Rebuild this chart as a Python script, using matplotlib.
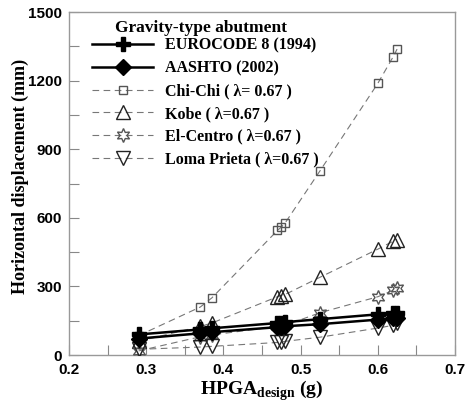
import numpy as np
import matplotlib.pyplot as plt
from matplotlib.ticker import MultipleLocator

# design HPGA values (g)
hpga = [0.29, 0.37, 0.385, 0.47, 0.475, 0.48, 0.525, 0.60, 0.62, 0.625]

# horizontal displacement (mm)
eurocode = [90, 112, 117, 140, 142, 144, 157, 178, 183, 186]
aashto = [72, 95, 100, 122, 124, 126, 135, 155, 160, 162]
chichi = [85, 210, 250, 545, 560, 578, 805, 1188, 1305, 1338]
kobe = [60, 125, 140, 255, 260, 265, 340, 463, 498, 505]
elcentro = [18, 80, 88, 125, 128, 130, 185, 255, 283, 293]
loma = [25, 35, 38, 55, 57, 60, 78, 118, 130, 138]

labels = ["EUROCODE 8 (1994)", "AASHTO (2002)",
          "Chi-Chi ( \u03bb= 0.67 )", "Kobe ( \u03bb=0.67 )",
          "El-Centro ( \u03bb=0.67 )", "Loma Prieta ( \u03bb=0.67 )"]

plt.rcParams['mathtext.fontset'] = 'custom'
plt.rcParams['mathtext.rm'] = 'Liberation Serif'
plt.rcParams['mathtext.bf'] = 'Liberation Serif:bold'

fig = plt.figure(figsize=(4.7, 4.03), dpi=100)
ax = fig.add_axes([0.147, 0.119, 0.821, 0.851])

ax.plot(hpga, eurocode, color='black', lw=1.8, marker='P', ms=10,
        label=labels[0], zorder=5)
ax.plot(hpga, aashto, color='black', lw=1.8, marker='D', ms=8,
        label=labels[1], zorder=5)
ax.plot(hpga, chichi, color='#777777', lw=0.8, ls=(0, (6, 4)), marker='s',
        ms=6, mfc='none', mec='#555555', label=labels[2], zorder=3)
ax.plot(hpga, kobe, color='#777777', lw=0.8, ls=(0, (6, 4)), marker='^',
        ms=10, mfc='none', mec='#222222', label=labels[3], zorder=3)
ax.plot(hpga, elcentro, color='#777777', lw=0.8, ls=(0, (6, 4)),
        marker=(6, 1, 0), ms=10, mfc='none', mec='#555555',
        label=labels[4], zorder=3)
ax.plot(hpga, loma, color='#777777', lw=0.8, ls=(0, (6, 4)), marker='v',
        ms=10, mfc='none', mec='#222222', label=labels[5], zorder=3)

ax.set_xlim(0.2, 0.7)
ax.set_ylim(0, 1500)
ax.xaxis.set_major_locator(MultipleLocator(0.1))
ax.xaxis.set_minor_locator(MultipleLocator(0.05))
ax.yaxis.set_major_locator(MultipleLocator(300))
ax.yaxis.set_minor_locator(MultipleLocator(150))
ax.tick_params(which='both', direction='in', length=7, width=0.8,
               color='#888888', labelsize=11)
ax.tick_params(axis='x', pad=6)
ax.tick_params(axis='y', pad=5)
for lab in ax.get_xticklabels() + ax.get_yticklabels():
    lab.set_fontfamily('Liberation Sans')
    lab.set_fontweight('bold')
for s in ax.spines.values():
    s.set_color('#999999')
    s.set_linewidth(1.0)

ax.set_xlabel(r'HPGA$_{\mathbf{design}}$ (g)', fontfamily='Liberation Serif',
              fontweight='bold', fontsize=14, labelpad=0.5)
ax.set_ylabel('Horizontal displacement (mm)', fontfamily='Liberation Serif',
              fontweight='bold', fontsize=13)
ax.yaxis.set_label_coords(-0.103, 0.52)

ax.text(0.119, 0.953, 'Gravity-type abutment', transform=ax.transAxes,
        fontfamily='Liberation Serif', fontweight='bold', fontsize=12.5,
        va='center', ha='left')

leg = ax.legend(loc='upper left', frameon=False,
                prop={'family': 'Liberation Serif', 'weight': 'bold', 'size': 11.5},
                handlelength=3.8, handletextpad=0.75, borderaxespad=0,
                borderpad=0, labelspacing=0.42,
                bbox_to_anchor=(0.06, 0.925))

fig.savefig('out.png', dpi=100)
